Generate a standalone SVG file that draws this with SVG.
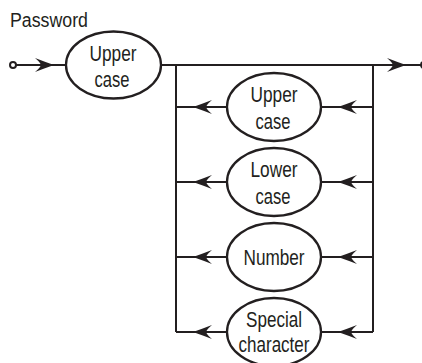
<svg xmlns="http://www.w3.org/2000/svg" width="422" height="363" viewBox="0 0 422 363">
<defs>
<style>
.ln{fill:none;stroke:#231f20;stroke-width:2}
.el{fill:#fff;stroke:#231f20;stroke-width:2.3}
.tx{font-family:"Liberation Sans",Arial,sans-serif;font-size:21.5px;fill:#231f20;text-anchor:middle}
.ar{fill:#231f20}
</style>
<path id="arR" d="M0,0 Q-10,-3.5 -19,-7 Q-14,-3 -13,0 Q-14,3 -19,7 Q-10,3.5 0,0 Z"/>
<path id="arL" d="M0,0 Q10,-3.5 19,-7 Q14,-3 13,0 Q14,3 19,7 Q10,3.5 0,0 Z"/>
</defs>
<rect width="422" height="363" fill="#fff"/>
<text x="10" y="27" textLength="78" lengthAdjust="spacingAndGlyphs" style="font-family:'Liberation Sans',Arial,sans-serif;font-size:19.5px;fill:#231f20">Password</text>
<g id="connectors">
<circle cx="13" cy="65" r="3" class="ln"/>
<path class="ln" d="M16,65 H66 M161,65 H421"/>
<path class="ln" d="M176,65 V332 M373,65 V332"/>
<path class="ln" d="M176,107 H227 M321,107 H373"/>
<path class="ln" d="M176,182 H227 M321,182 H373"/>
<path class="ln" d="M176,257 H227 M321,257 H373"/>
<path class="ln" d="M176,332 H227 M321,332 H373"/>
<circle cx="424" cy="65" r="3" class="ln"/>
<use href="#arR" x="54" y="65" class="ar"/>
<use href="#arR" x="406" y="65" class="ar"/>
<use href="#arL" x="193" y="107" class="ar"/>
<use href="#arL" x="338" y="107" class="ar"/>
<use href="#arL" x="193" y="182" class="ar"/>
<use href="#arL" x="338" y="182" class="ar"/>
<use href="#arL" x="193" y="257" class="ar"/>
<use href="#arL" x="338" y="257" class="ar"/>
<use href="#arL" x="193" y="332" class="ar"/>
<use href="#arL" x="338" y="332" class="ar"/>
</g>
<g id="n-start">
<ellipse cx="113.5" cy="65" rx="47.5" ry="33.5" class="el"/>
<text x="113" y="61" class="tx" textLength="47" lengthAdjust="spacingAndGlyphs">Upper</text>
<text x="112" y="87" class="tx" textLength="35" lengthAdjust="spacingAndGlyphs">case</text>
</g>
<g id="n-upper">
<ellipse cx="274" cy="107" rx="47" ry="34" class="el"/>
<text x="274" y="102" class="tx" textLength="47" lengthAdjust="spacingAndGlyphs">Upper</text>
<text x="273" y="129" class="tx" textLength="35" lengthAdjust="spacingAndGlyphs">case</text>
</g>
<g id="n-lower">
<ellipse cx="274" cy="182" rx="47" ry="34" class="el"/>
<text x="274" y="177" class="tx" textLength="47" lengthAdjust="spacingAndGlyphs">Lower</text>
<text x="273" y="204" class="tx" textLength="35" lengthAdjust="spacingAndGlyphs">case</text>
</g>
<g id="n-number">
<ellipse cx="274" cy="257" rx="47" ry="34" class="el"/>
<text x="274" y="265" class="tx" textLength="61" lengthAdjust="spacingAndGlyphs">Number</text>
</g>
<g id="n-special">
<ellipse cx="274" cy="332" rx="47" ry="34" class="el"/>
<text x="274" y="327" class="tx" textLength="56" lengthAdjust="spacingAndGlyphs">Special</text>
<text x="274" y="352" class="tx" textLength="71" lengthAdjust="spacingAndGlyphs">character</text>
</g>
</svg>
